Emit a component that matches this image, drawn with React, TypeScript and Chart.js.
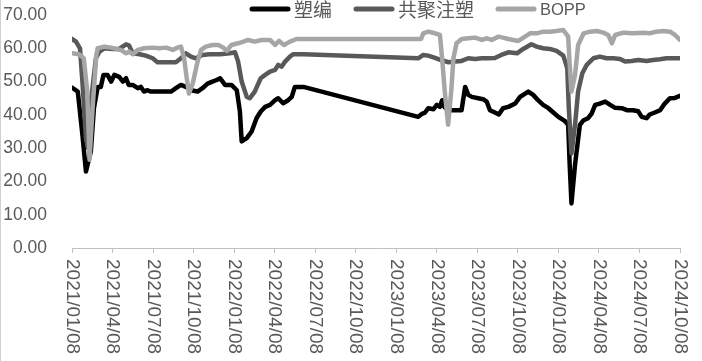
import React, { useEffect, useRef } from "react";
import { Chart, registerables } from "chart.js";

Chart.register(...registerables);

const seriesNames = ["塑编", "共聚注塑", "BOPP"];
const seriesColors = ["#000000", "#595959", "#a6a6a6"];

const tickLabels = [
  "2021/01/08", "2021/04/08", "2021/07/08", "2021/10/08",
  "2022/01/08", "2022/04/08", "2022/07/08", "2022/10/08",
  "2023/01/08", "2023/04/08", "2023/07/08", "2023/10/08",
  "2024/01/08", "2024/04/08", "2024/07/08", "2024/10/08",
];

const yTicks = [0, 10, 20, 30, 40, 50, 60, 70];

// 塑编
const suBianDates = [
  "2021/01/08", "2021/01/21", "2021/02/01", "2021/02/09", "2021/02/20", "2021/02/27", "2021/03/05", "2021/03/12",
  "2021/03/18", "2021/03/27", "2021/04/05", "2021/04/12", "2021/04/23", "2021/05/01", "2021/05/08", "2021/05/14",
  "2021/05/23", "2021/06/04", "2021/06/11", "2021/06/18", "2021/06/26", "2021/07/03", "2021/08/18", "2021/08/29",
  "2021/09/10", "2021/09/21", "2021/10/02", "2021/10/17", "2021/10/28", "2021/11/09", "2021/11/20", "2021/11/28",
  "2021/12/07", "2021/12/18", "2022/01/02", "2022/01/14", "2022/01/21", "2022/01/25", "2022/02/06", "2022/02/17",
  "2022/02/28", "2022/03/07", "2022/03/17", "2022/03/28", "2022/04/09", "2022/04/16", "2022/04/27", "2022/05/08",
  "2022/05/16", "2022/05/23", "2022/06/12", "2023/02/27", "2023/03/06", "2023/03/12", "2023/03/19", "2023/03/31",
  "2023/04/08", "2023/04/15", "2023/04/20", "2023/04/25", "2023/05/04", "2023/05/19", "2023/06/03", "2023/06/11",
  "2023/06/18", "2023/06/26", "2023/07/10", "2023/07/21", "2023/07/29", "2023/08/06", "2023/08/17", "2023/08/26",
  "2023/09/05", "2023/09/17", "2023/10/02", "2023/10/13", "2023/11/01", "2023/11/12", "2023/11/23", "2023/12/04",
  "2023/12/16", "2023/12/27", "2024/01/08", "2024/01/23", "2024/01/30", "2024/02/03", "2024/02/07", "2024/02/15",
  "2024/02/26", "2024/03/04", "2024/03/14", "2024/03/22", "2024/03/30", "2024/04/10", "2024/04/22", "2024/05/03",
  "2024/05/14", "2024/05/29", "2024/06/10", "2024/06/24", "2024/07/05", "2024/07/13", "2024/07/24", "2024/07/31",
  "2024/08/12", "2024/08/24", "2024/09/04", "2024/09/16", "2024/09/27", "2024/10/08",
];
const suBianValues = [
  48.2, 47, 34, 23, 29, 42, 48.4, 48.4,
  52, 52, 50, 52, 51.4, 50, 51, 49,
  49, 48, 48.4, 47, 47.4, 47, 47, 48,
  49, 48.4, 47.4, 47, 48, 49.4, 50, 50.4,
  51, 49, 49, 47.4, 41, 32, 33, 35,
  39, 41, 42.4, 43, 44.4, 45, 43.5, 44.4,
  45.4, 48.4, 48.4, 39.4, 40.4, 40.7, 42, 41.7,
  43, 42.4, 44.4, 42.4, 41.4, 41.4, 41.4, 48.4,
  46, 45.4, 45, 44.7, 44, 41.4, 40.7, 40.1,
  42, 42.4, 43.4, 45.4, 47, 46, 44.4, 43,
  42, 40.7, 39.4, 38.1, 37, 25, 13.4, 25,
  37, 38.4, 39, 40.4, 43, 43.4, 44, 43,
  42.1, 42, 41.4, 41.4, 41.1, 39.4, 39, 40.1,
  40.7, 41.4, 43.4, 45, 45.1, 45.7,
];

// 共聚注塑
const gongJuDates = [
  "2021/01/08", "2021/01/17", "2021/01/26", "2021/02/01", "2021/02/09", "2021/02/14", "2021/02/21", "2021/03/01",
  "2021/03/09", "2021/03/20", "2021/04/08", "2021/04/23", "2021/05/08", "2021/05/15", "2021/05/23", "2021/06/08",
  "2021/06/22", "2021/07/07", "2021/07/18", "2021/08/29", "2021/09/10", "2021/09/21", "2021/10/02", "2021/10/13",
  "2021/10/28", "2021/11/13", "2021/12/07", "2021/12/29", "2022/01/10", "2022/01/17", "2022/01/25", "2022/02/06",
  "2022/02/13", "2022/02/24", "2022/03/07", "2022/03/17", "2022/03/28", "2022/04/09", "2022/04/16", "2022/04/24",
  "2022/05/01", "2022/05/12", "2022/05/19", "2022/06/12", "2023/02/27", "2023/03/08", "2023/03/19", "2023/04/04",
  "2023/04/19", "2023/05/04", "2023/05/19", "2023/06/03", "2023/06/18", "2023/07/03", "2023/07/18", "2023/08/02",
  "2023/08/17", "2023/09/01", "2023/09/17", "2023/10/06", "2023/10/20", "2023/11/08", "2023/11/20", "2023/12/04",
  "2023/12/19", "2024/01/04", "2024/01/19", "2024/01/28", "2024/02/01", "2024/02/07", "2024/02/15", "2024/02/22",
  "2024/03/01", "2024/03/11", "2024/03/26", "2024/04/10", "2024/04/25", "2024/05/10", "2024/05/25", "2024/06/06",
  "2024/06/21", "2024/07/05", "2024/07/24", "2024/08/08", "2024/08/24", "2024/09/08", "2024/10/08",
];
const gongJuValues = [
  62.8, 62, 60, 50, 33, 30, 45, 57,
  59, 60, 59.8, 59.8, 61.2, 60.8, 58.5, 58.2,
  57.8, 57, 55.8, 55.8, 57, 58.5, 57.5, 57,
  58, 58.2, 58.2, 58.5, 58.8, 56, 50, 45.4,
  45, 47, 51, 52, 53, 53.5, 55, 54.5,
  56, 57.5, 58.2, 58.2, 57, 58, 57.8, 57.1,
  56.4, 55.8, 56, 56.2, 57, 56.8, 57, 57,
  57.1, 58, 58.8, 58.5, 59.8, 61.2, 60.5, 60,
  59.8, 59.2, 57.8, 54, 42, 28.4, 37, 47,
  52.5, 55, 57, 57.5, 57, 57, 56.8, 56,
  56.2, 56.5, 56.2, 56.5, 56.7, 57, 57,
];

// BOPP
const boppDates = [
  "2021/01/08", "2021/01/24", "2021/02/04", "2021/02/12", "2021/02/17", "2021/02/24", "2021/03/02", "2021/03/05",
  "2021/03/20", "2021/04/05", "2021/04/16", "2021/04/27", "2021/05/08", "2021/05/15", "2021/05/23", "2021/06/04",
  "2021/06/18", "2021/07/07", "2021/07/22", "2021/08/07", "2021/08/22", "2021/09/02", "2021/09/10", "2021/09/17",
  "2021/09/23", "2021/09/28", "2021/10/06", "2021/10/17", "2021/10/25", "2021/11/05", "2021/11/20", "2021/12/03",
  "2021/12/14", "2021/12/22", "2022/01/02", "2022/01/17", "2022/01/29", "2022/02/09", "2022/02/24", "2022/03/09",
  "2022/03/28", "2022/04/09", "2022/04/18", "2022/04/29", "2022/05/12", "2022/05/27", "2023/03/03", "2023/03/08",
  "2023/03/19", "2023/04/04", "2023/04/15", "2023/04/20", "2023/04/26", "2023/05/03", "2023/05/10", "2023/05/15",
  "2023/05/22", "2023/06/03", "2023/06/18", "2023/07/03", "2023/07/18", "2023/07/29", "2023/08/10", "2023/08/25",
  "2023/09/05", "2023/09/17", "2023/09/28", "2023/10/09", "2023/10/24", "2023/11/05", "2023/11/20", "2023/12/04",
  "2023/12/19", "2024/01/04", "2024/01/19", "2024/01/30", "2024/02/03", "2024/02/07", "2024/02/15", "2024/02/22",
  "2024/03/04", "2024/03/18", "2024/04/03", "2024/04/18", "2024/04/29", "2024/05/07", "2024/05/14", "2024/06/02",
  "2024/06/24", "2024/07/16", "2024/07/31", "2024/08/16", "2024/08/31", "2024/09/16", "2024/09/27", "2024/10/08",
];
const boppValues = [
  58.5, 58.2, 57, 47, 26.5, 42, 58, 60,
  60.5, 60.2, 59.8, 59.5, 58.5, 59, 58.2, 59.5,
  60, 60.2, 60, 60.2, 59.5, 60.2, 60.5, 57,
  51, 46.4, 49.4, 56, 59.5, 60.5, 61, 61,
  60.2, 59.2, 61, 61.5, 62, 62.5, 62, 62.5,
  62.5, 61, 62.2, 61, 62, 62.8, 62.8, 64.5,
  65, 64.5, 64, 57, 47, 37, 47, 57,
  61.5, 62.8, 63, 63.2, 62.5, 63, 62.5, 63.5,
  63.2, 62.8, 62.5, 62.2, 63.5, 64.5, 64.5, 65,
  65, 65.2, 65.5, 63.5, 55, 47, 52, 61,
  64.5, 65, 65.2, 64.7, 64, 61.5, 64, 64.7,
  64.5, 64.7, 64.5, 65, 65.2, 65, 64, 62.5,
];

function toMonths(s: string): number {
  const [y, m, d] = s.split("/").map(Number);
  return (y - 2021) * 12 + (m - 1) + (d - 8) / 30.44;
}

function toPoints(dates: string[], values: number[]) {
  return dates.map((d, i) => ({ x: toMonths(d), y: values[i] }));
}

const TEXT_COLOR = "#595959";
const AXIS_COLOR = "#bfbfbf";

const overlayPlugin = {
  id: "overlay",
  afterDraw(chart: any) {
    const ctx = chart.ctx as CanvasRenderingContext2D;
    const xs = chart.scales.x;
    ctx.save();
    // left frame line
    ctx.fillStyle = "#d0d0d0";
    ctx.fillRect(0, 0, 1, chart.height);

    // rotated x tick labels (top-to-bottom)
    ctx.fillStyle = TEXT_COLOR;
    ctx.font = '19px "Liberation Sans", Arial, sans-serif';
    ctx.textAlign = "left";
    ctx.textBaseline = "middle";
    tickLabels.forEach((lbl) => {
      const px = xs.getPixelForValue(toMonths(lbl));
      ctx.save();
      ctx.translate(px, xs.bottom + 6);
      ctx.rotate(Math.PI / 2);
      ctx.fillText(lbl, 0, 0);
      ctx.restore();
    });

    // legend
    const legendY = 9;
    let x = 252;
    const lineLen = 36;
    seriesNames.forEach((name, i) => {
      ctx.strokeStyle = seriesColors[i];
      ctx.lineWidth = 5;
      ctx.lineCap = "round";
      ctx.beginPath();
      ctx.moveTo(x, legendY);
      ctx.lineTo(x + lineLen, legendY);
      ctx.stroke();
      x += lineLen + 6;
      const isLatin = /^[A-Za-z]+$/.test(name);
      ctx.font = isLatin
        ? '16.5px "Liberation Sans", Arial, sans-serif'
        : '19px "Noto Sans CJK SC", sans-serif';
      ctx.fillStyle = TEXT_COLOR;
      ctx.textAlign = "left";
      ctx.textBaseline = "middle";
      ctx.fillText(name, x, legendY + 1);
      x += ctx.measureText(name).width + 24;
    });
    ctx.restore();
  },
};

export default function App() {
  const canvasRef = useRef<HTMLCanvasElement | null>(null);

  useEffect(() => {
    document.body.style.margin = "0";
    const canvas = canvasRef.current;
    if (!canvas) return;
    const seriesData = [
      toPoints(suBianDates, suBianValues),
      toPoints(gongJuDates, gongJuValues),
      toPoints(boppDates, boppValues),
    ];
    const chart = new Chart(canvas, {
      type: "line",
      data: {
        datasets: seriesNames.map((name, i) => ({
          label: name,
          data: seriesData[i],
          borderColor: seriesColors[i],
          backgroundColor: seriesColors[i],
          borderWidth: 4.5,
          borderCapStyle: "round",
          borderJoinStyle: "round",
          pointRadius: 0,
          tension: 0,
          fill: false,
          order: seriesNames.length - i,
        })),
      },
      options: {
        responsive: false,
        animation: false,
        events: [],
        layout: { padding: { top: 15, left: 0, right: 22, bottom: 108 } },
        plugins: {
          legend: { display: false },
          tooltip: { enabled: false },
          title: { display: false },
        },
        scales: {
          x: {
            type: "linear",
            min: 0,
            max: toMonths(tickLabels[tickLabels.length - 1]),
            afterBuildTicks: (scale: any) => {
              scale.ticks = tickLabels.map((l) => ({ value: toMonths(l) }));
            },
            ticks: { display: false },
            grid: {
              display: true,
              drawOnChartArea: false,
              drawTicks: true,
              tickLength: 5,
              color: AXIS_COLOR,
              lineWidth: 1,
            },
            border: { display: true, color: AXIS_COLOR, width: 1 },
          },
          y: {
            type: "linear",
            min: yTicks[0],
            max: yTicks[yTicks.length - 1],
            afterBuildTicks: (scale: any) => {
              scale.ticks = yTicks.map((v) => ({ value: v }));
            },
            afterFit: (scale: any) => {
              scale.width = 72;
              scale.paddingTop = 10;
              scale.paddingBottom = 10;
            },
            ticks: {
              padding: 25,
              color: TEXT_COLOR,
              font: { family: '"Liberation Sans", Arial, sans-serif', size: 17.5 },
              callback: (v: any) => Number(v).toFixed(2),
            },
            grid: { display: false, drawTicks: false },
            border: { display: false },
          },
        },
      },
      plugins: [overlayPlugin],
    });
    return () => chart.destroy();
  }, []);

  return (
    <div style={{ width: 702, height: 361, background: "#ffffff" }}>
      <canvas ref={canvasRef} width={702} height={361} style={{ display: "block" }} />
    </div>
  );
}
